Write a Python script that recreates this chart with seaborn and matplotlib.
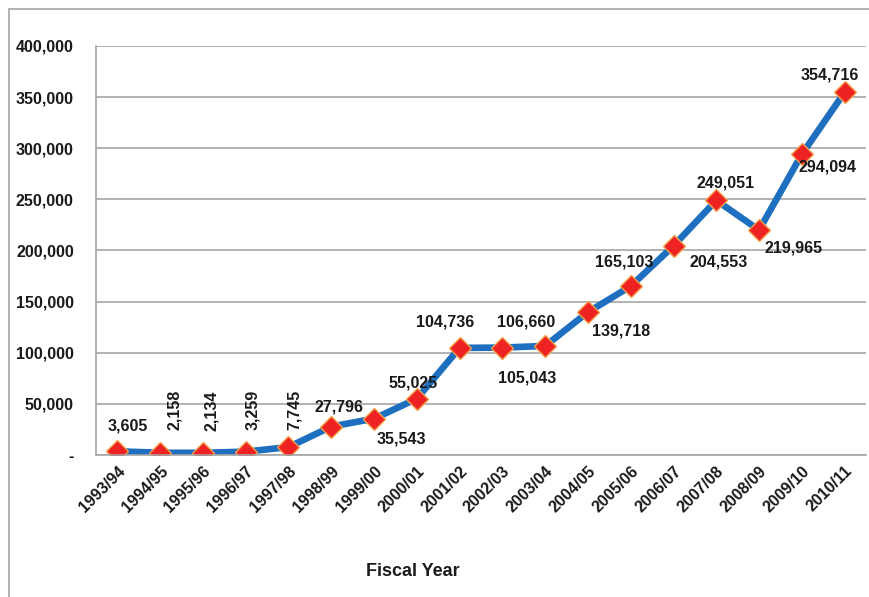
import numpy as np
import pandas as pd
import matplotlib
matplotlib.use("Agg")
import matplotlib.pyplot as plt
import seaborn as sns
from matplotlib.patches import Rectangle

years = ["1993/94", "1994/95", "1995/96", "1996/97", "1997/98", "1998/99",
         "1999/00", "2000/01", "2001/02", "2002/03", "2003/04", "2004/05",
         "2005/06", "2006/07", "2007/08", "2008/09", "2009/10", "2010/11"]
values = [3605, 2158, 2134, 3259, 7745, 27796, 35543, 55025, 104736, 105043,
          106660, 139718, 165103, 204553, 249051, 219965, 294094, 354716]
y_ticks = [0, 50000, 100000, 150000, 200000, 250000, 300000, 350000, 400000]
y_tick_labels = ["-", "50,000", "100,000", "150,000", "200,000", "250,000",
                 "300,000", "350,000", "400,000"]

# label placement (offset in pixels from the point, rotation)
label_offsets = [(10, 25, 0), (14, 43, 90), (9, 42, 90), (7, 42, 90), (6, 37, 90),
                 (8, 20, 0), (27, -20, 0), (-4, 16, 0), (-14, 26, 0), (25, -30, 0),
                 (-19, 24, 0), (33, -19, 0), (-7, 24, 0), (45, -16, 0), (9, 17, 0),
                 (35, -18, 0), (26, -13, 0), (-15, 17, 0)]

df = pd.DataFrame({"year": years, "value": values})

sns.set_theme(style="white")
plt.rcParams["font.family"] = ["Liberation Sans", "DejaVu Sans"]

fig = plt.figure(figsize=(8.7, 5.97), dpi=100)
ax = fig.add_axes([96 / 870, 1 - 455 / 597, 770 / 870, 409 / 597])

# outer chart frame
fig.patches.append(Rectangle((9 / 870, -0.05), 1.1, 1 - 9 / 597 + 0.05,
                             transform=fig.transFigure, fill=False,
                             edgecolor="#a6a6a6", linewidth=1.2))

sns.lineplot(data=df, x="year", y="value", ax=ax, color="#1f6fc0",
             linewidth=4.8, marker="D", markersize=11,
             markerfacecolor="#ee2222", markeredgecolor="#f2a04a",
             markeredgewidth=1.0, sort=False)

for i, v in enumerate(values):
    dx, dy, rot = label_offsets[i]
    ax.annotate(f"{v:,}", (i, v), xytext=(dx, dy), textcoords="offset pixels",
                ha="center", va="center", rotation=rot, fontsize=11.5,
                fontweight="bold", color="#1a1a1a")

ax.set_ylim(0, 400000)
ax.set_xlim(-0.5, len(years) - 0.5)
ax.set_yticks(y_ticks)
ax.set_yticklabels(y_tick_labels)
ax.set_xticks(range(len(years)))
ax.set_xticklabels(years, rotation=45, ha="right", rotation_mode="anchor")
ax.tick_params(axis="both", labelsize=11.5, colors="#1a1a1a", length=0)
ax.tick_params(axis="y", pad=16)
ax.tick_params(axis="x", pad=6)
for lab in ax.get_xticklabels() + ax.get_yticklabels():
    lab.set_fontweight("bold")

ax.grid(axis="y", color="#a6a6a6", linewidth=1.2)
ax.set_axisbelow(True)
for side in ["top", "right"]:
    ax.spines[side].set_visible(False)
for side in ["left", "bottom"]:
    ax.spines[side].set_color("#a6a6a6")
    ax.spines[side].set_linewidth(1.2)

ax.set_ylabel("")
ax.set_xlabel("Fiscal Year", fontsize=13, fontweight="bold", color="#1a1a1a")
ax.xaxis.set_label_coords((413 - 96) / 770, -(563 - 455) / 409)

fig.savefig("out.png", dpi=100)
